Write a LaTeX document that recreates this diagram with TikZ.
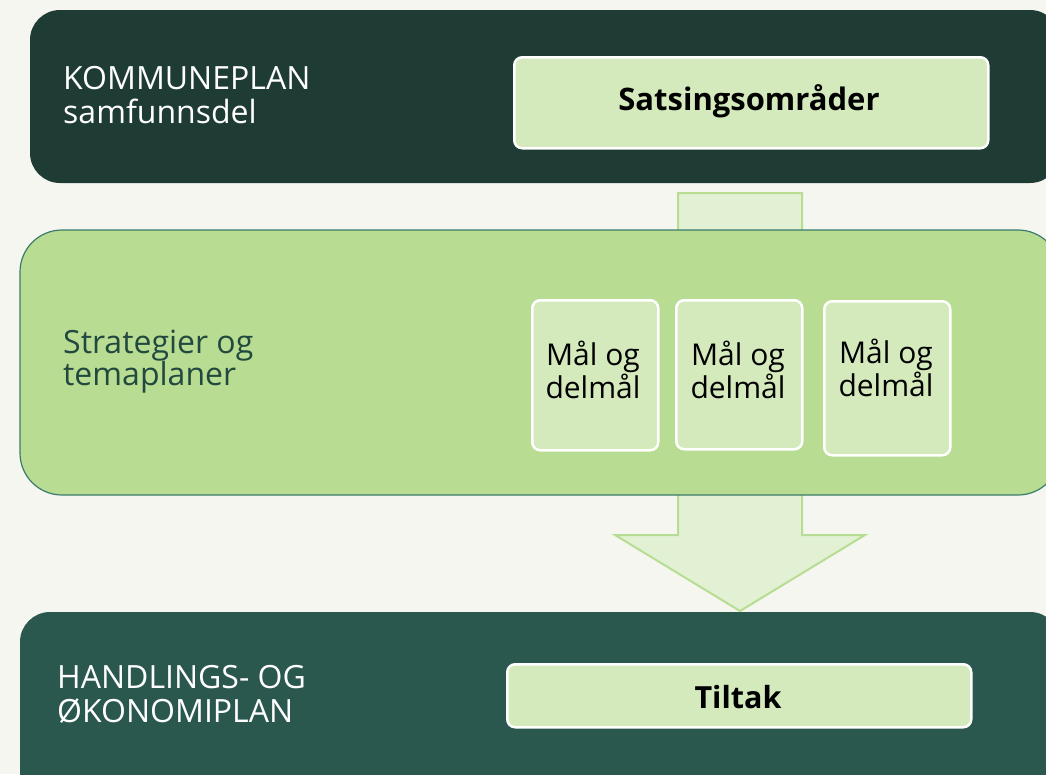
\documentclass[tikz,border=0pt]{standalone}
\usepackage{fontspec}
\setmainfont{Open Sans}
\definecolor{bgc}{HTML}{F6F6F1}
\definecolor{topc}{HTML}{1E3C34}
\definecolor{botc}{HTML}{2A584E}
\definecolor{midc}{HTML}{B8DC92}
\definecolor{midborder}{HTML}{3A7C6C}
\definecolor{lightc}{HTML}{D4EABC}
\definecolor{arrowc}{HTML}{E2F1D4}
\definecolor{arrowborder}{HTML}{B7DD93}
\definecolor{midtext}{HTML}{22493F}
\tikzset{
  band/.style={inner sep=0pt, outer sep=0pt, anchor=north west},
  innerbox/.style={fill=lightc, draw=white, line width=2.5pt, rounded corners=8pt, inner sep=0pt, anchor=north west},
  whitetext/.style={text=white, align=left, anchor=base west, inner sep=0pt, font=\fontsize{32}{34}\selectfont},
}
\begin{document}
\begin{tikzpicture}[x=1pt,y=-1pt]
\useasboundingbox (0,0) rectangle (1046,774);
\clip (0,0) rectangle (1046,774);
\fill[bgc] (0,0) rectangle (1046,774);
% block arrow (behind middle band)
\draw[fill=arrowc, draw=arrowborder, line width=2pt]
  (678,193) -- (802,193) -- (802,535) -- (865,535) -- (740,611) -- (615,535) -- (678,535) -- cycle;
% bands
\node[band, fill=topc, rounded corners=30pt, minimum width=1030pt, minimum height=173pt] (top) at (30,10) {};
\node[band, fill=midc, draw=midborder, line width=1.2pt, rounded corners=42pt, minimum width=1040pt, minimum height=265pt] (mid) at (20,230) {};
\node[band, fill=botc, rounded corners=30pt, minimum width=1040pt, minimum height=200pt] (bot) at (20,612) {};
% inner boxes
\node[innerbox, minimum width=474pt, minimum height=91pt] (sats) at (513,56) {};
\node[font=\bfseries\fontsize{31}{34}\selectfont, anchor=base, inner sep=0pt] (satst) at (749,110) {Satsingsområder};
\node[innerbox, minimum width=126pt, minimum height=150pt] (m1) at (531,299) {};
\node[innerbox, minimum width=126pt, minimum height=149pt] (m2) at (675,299) {};
\node[innerbox, minimum width=126pt, minimum height=154pt] (m3) at (823,300) {};
\node[font=\fontsize{30}{31}\selectfont, align=center, anchor=base, inner sep=0pt] (m1t) at (593,398) {Mål og\\delmål};
\node[font=\fontsize{30}{31}\selectfont, align=center, anchor=base, inner sep=0pt] (m2t) at (738,398) {Mål og\\delmål};
\node[font=\fontsize{30}{31}\selectfont, align=center, anchor=base, inner sep=0pt] (m3t) at (886,396) {Mål og\\delmål};
\node[innerbox, minimum width=464pt, minimum height=63pt] (tilt) at (506,663) {};
\node[font=\bfseries\fontsize{30.5}{34}\selectfont, anchor=base, inner sep=0pt] (tiltt) at (738,708) {Tiltak};
% labels
\node[whitetext] (kp) at (63,123) {KOMMUNEPLAN\\samfunnsdel};
\node[whitetext, text=midtext, font=\fontsize{32}{32}\selectfont] (st) at (63,385) {Strategier og\\temaplaner};
\node[whitetext] (ho) at (57,722) {HANDLINGS- OG\\ØKONOMIPLAN};
\end{tikzpicture}
\end{document}
